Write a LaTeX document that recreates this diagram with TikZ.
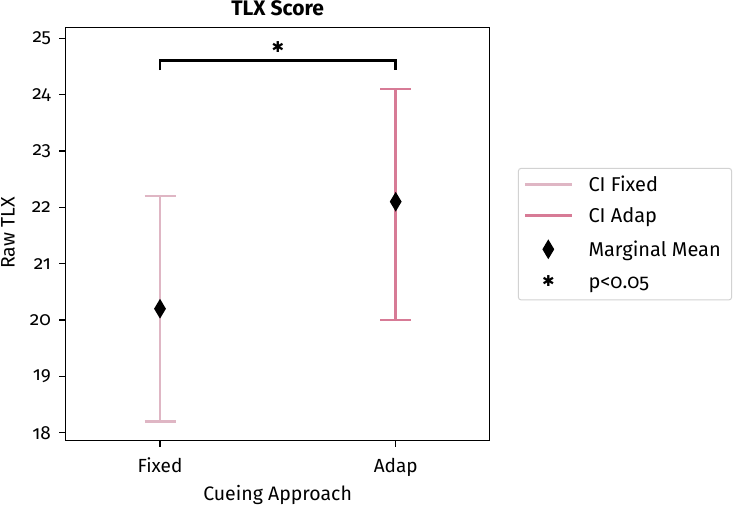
\documentclass[tikz,border=0pt]{standalone}
\usepackage{fontspec}
\setmainfont{Fira Sans}[Numbers=OldStyle]
\newfontfamily\symfont{DejaVu Sans}
\usetikzlibrary{shapes.geometric,positioning}

\definecolor{ciFixed}{RGB}{223,182,196}
\definecolor{ciAdap}{RGB}{215,123,150}

\begin{document}
\begin{tikzpicture}[
    x=1pt, y=56.34pt,
    spine/.style={draw=black, line width=1.4pt},
    tickline/.style={black, line width=1.2pt},
    ticklabel/.style={font=\fontsize{19}{21}\selectfont, inner sep=0pt},
    axislabel/.style={font=\fontsize{19.5}{21}\selectfont, inner sep=0pt},
    titletext/.style={font=\fontsize{21}{23}\selectfont\bfseries, inner sep=0pt},
    cibar/.style={line width=2.8pt},
    meanmark/.style={diamond, fill=black, inner sep=0pt, minimum width=12pt, minimum height=20pt},
    sigstar/.style={font=\symfont\fontsize{15}{15}\selectfont, inner sep=0pt},
    bracket/.style={black, line width=2.8pt, line join=miter},
    legendbox/.style={draw=gray!35, rounded corners=3pt, line width=1pt, fill=white},
    legendtext/.style={font=\fontsize{20}{22}\selectfont, inner sep=0pt, anchor=base west}
  ]
    \useasboundingbox (0,16.699) rectangle (733,25.680);

    % Titulo e moldura
    \node[titletext, anchor=base] (title) at (277.6,25.40) {TLX Score};
    \coordinate (axSW) at (65.5,17.858);
    \coordinate (axNE) at (489.7,25.19);
    \draw[spine] (axSW) rectangle (axNE);

    % Eixo y
    \foreach \v in {18,...,25} {
      \draw[tickline] (59,\v) -- (65.5,\v);
      \node[ticklabel, anchor=east] (ytick\v) at (51,\v) {\v};
    }

    % Eixo x
    \foreach \name/\x in {Fixed/160, Adap/395.7} {
      \draw[tickline] (\x,17.858) -- (\x,17.752);
      \node[ticklabel, anchor=base] (xtick\name) at (\x,17.30) {\name};
    }
    \node[axislabel, anchor=base] (xlabel) at (277.6,16.79) {Cueing Approach};
    \node[axislabel, rotate=90] (ylabel) at (8,21.544) {Raw TLX};

    % Intervalos de confianca
    \foreach \name/\x/\lo/\hi/\m/\col in {Fixed/160/18.2/22.2/20.2/ciFixed, Adap/395.7/20.0/24.1/22.1/ciAdap} {
      \coordinate (lo\name) at (\x,\lo);
      \coordinate (hi\name) at (\x,\hi);
      \draw[cibar, \col] (lo\name) -- (hi\name);
      \draw[cibar, \col] ([xshift=-15.5pt]lo\name) -- ([xshift=15.5pt]lo\name);
      \draw[cibar, \col] ([xshift=-15.5pt]hi\name) -- ([xshift=15.5pt]hi\name);
      \node[meanmark] (mean\name) at (\x,\m) {};
    }

    % Significancia
    \coordinate (brFixed) at (160,24.435);
    \coordinate (brAdap) at (395.7,24.435);
    \draw[bracket] (brFixed) -- ++(0,0.165) -| (brAdap);
    \node[sigstar] (star) at (278,24.84) {✱};

    % Legenda
    \draw[legendbox] (518.3,20.355) rectangle (731.7,22.693);
    \draw[cibar, ciFixed] (525,22.407) -- (571.7,22.407);
    \node[legendtext] (legFixed) at (588.3,22.28) {CI Fixed};
    \draw[cibar, ciAdap] (525,21.850) -- (571.7,21.850);
    \node[legendtext] (legAdap) at (588.3,21.723) {CI Adap};
    \node[meanmark] (legMark) at (548.3,21.255) {};
    \node[legendtext] (legMean) at (588.3,21.128) {Marginal Mean};
    \node[sigstar] (legStar) at (548.3,20.692) {✱};
    \node[legendtext] (legSig) at (588.3,20.565) {p<0.05};
  \end{tikzpicture}
\end{document}
